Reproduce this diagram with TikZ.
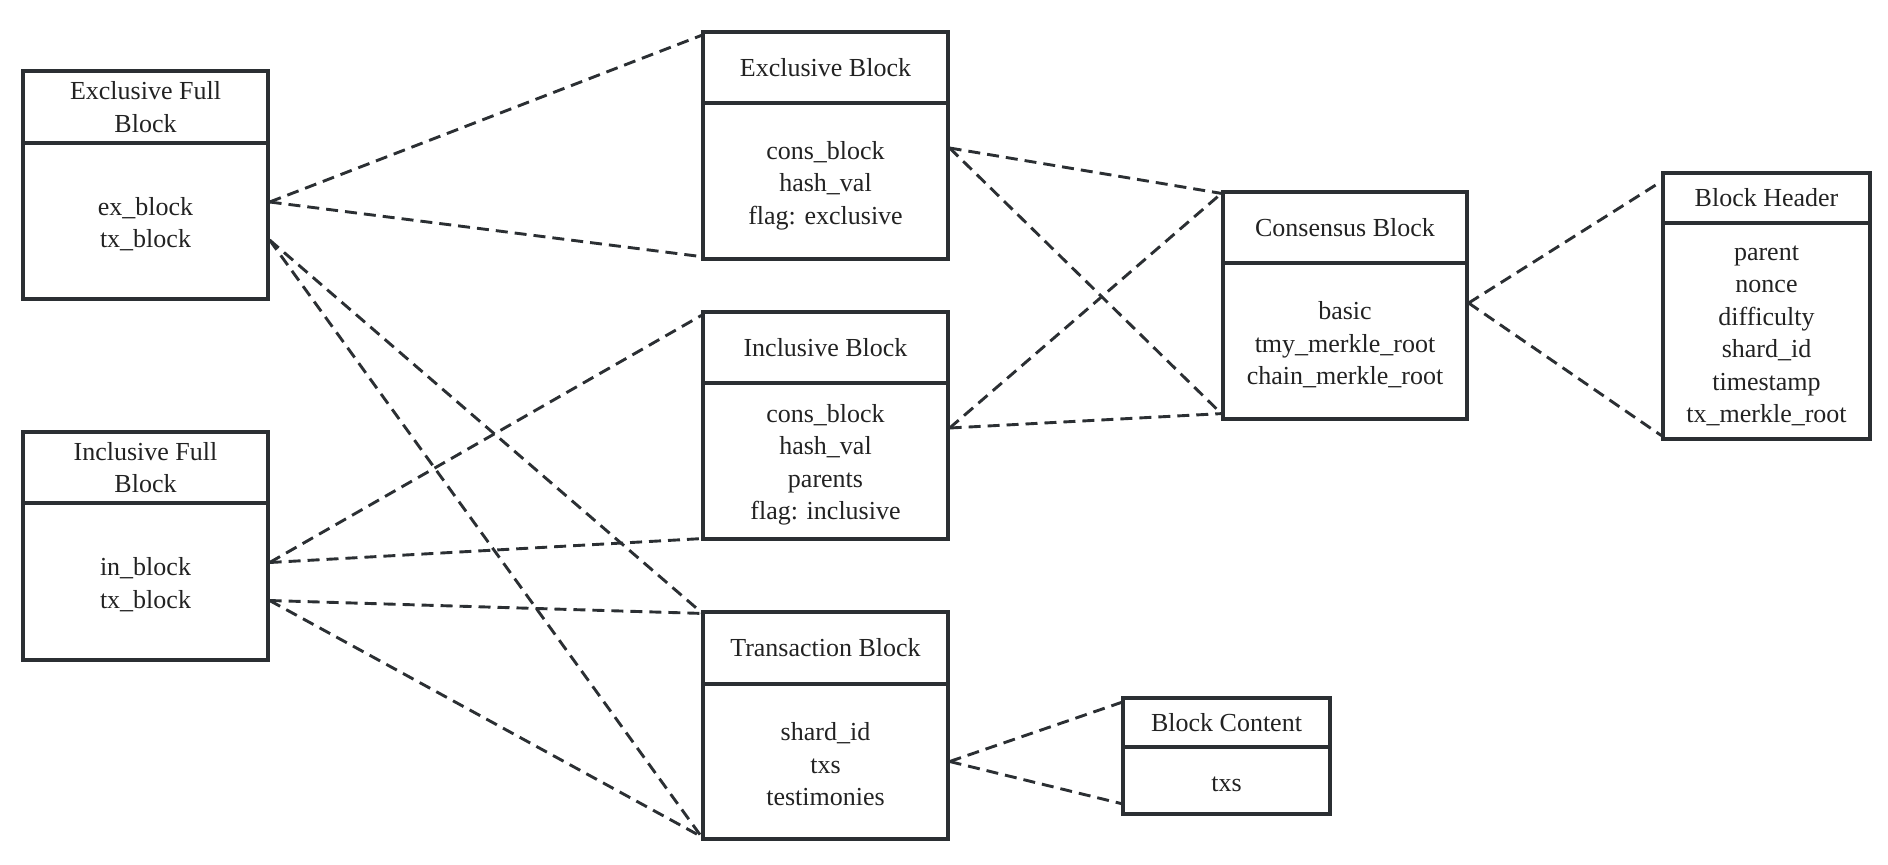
\documentclass[tikz,border=0pt]{standalone}
\usepackage{fontspec}
\setmainfont{Liberation Serif}
\definecolor{line}{HTML}{2B2F33}
\definecolor{txt}{HTML}{222222}
\tikzset{
  box/.style={draw=line, line width=1.6pt, inner sep=0pt, align=center, text=txt,
    font=\fontsize{13}{16.25}\selectfont},
  btext/.style={inner sep=0pt, align=center, text=txt, font=\fontsize{13}{16.25}\selectfont},
  rel/.style={draw=line, line width=1.45pt, dash pattern=on 6pt off 3.5pt}
}
\begin{document}
\begin{tikzpicture}[x=0.5pt,y=-0.5pt]
\useasboundingbox (0,0) rectangle (1888,864);
% Exclusive Full Block
\node[box, minimum width=122.5pt, minimum height=36pt] (efbh) at (145.5,107) {Exclusive Full\\Block};
\node[box, minimum width=122.5pt, minimum height=78pt] (efb) at (145.5,221) {};
\node[btext] (efbt) at ([yshift=-1.5pt]efb.center) {ex\_block\\tx\_block};
% Inclusive Full Block
\node[box, minimum width=122.5pt, minimum height=35.5pt] (ifbh) at (145.5,467.5) {Inclusive Full\\Block};
\node[box, minimum width=122.5pt, minimum height=78.5pt] (ifb) at (145.5,581.5) {};
\node[btext] (ifbt) at ([yshift=-1.5pt]ifb.center) {in\_block\\tx\_block};
% Exclusive Block
\node[box, minimum width=122.5pt, minimum height=35.5pt] (ebh) at (825.5,67.5) {Exclusive Block};
\node[box, minimum width=122.5pt, minimum height=78pt] (eb) at (825.5,181) {};
\node[btext] (ebt) at ([yshift=-2.2pt]eb.center) {cons\_block\\hash\_val\\flag: exclusive};
% Inclusive Block
\node[box, minimum width=122.5pt, minimum height=35.5pt] (ibh) at (825.5,347.5) {Inclusive Block};
\node[box, minimum width=122.5pt, minimum height=78pt] (ib) at (825.5,461) {};
\node[btext] (ibt) at ([yshift=-2pt]ib.center) {cons\_block\\hash\_val\\parents\\flag: inclusive};
% Transaction Block
\node[box, minimum width=122.5pt, minimum height=36pt] (tbh) at (825.5,648) {Transaction Block};
\node[box, minimum width=122.5pt, minimum height=77.5pt] (tb) at (825.5,761.5) {};
\node[btext] (tbt) at ([yshift=-1.5pt]tb.center) {shard\_id\\txs\\testimonies};
% Consensus Block
\node[box, minimum width=122pt, minimum height=35.5pt] (cbh) at (1345,227.5) {Consensus Block};
\node[box, minimum width=122pt, minimum height=78pt] (cb) at (1345,341) {};
\node[btext] (cbt) at ([yshift=-2pt]cb.center) {basic\\tmy\_merkle\_root\\chain\_merkle\_root};
% Block Header
\node[box, minimum width=103.5pt, minimum height=25pt] (bhh) at (1766.5,198) {Block Header};
\node[box, minimum width=103.5pt, minimum height=108pt] (bh) at (1766.5,331) {};
\node[btext] (bht) at ([yshift=-2.5pt]bh.center) {parent\\nonce\\difficulty\\shard\_id\\timestamp\\tx\_merkle\_root};
% Block Content
\node[box, minimum width=103.5pt, minimum height=24.5pt] (bch) at (1226.5,722.5) {Block Content};
\node[box, minimum width=103.5pt, minimum height=33.5pt] (bc) at (1226.5,780.5) {};
\node[btext] (bct) at ([yshift=-1.8pt]bc.center) {txs};
% relations
\draw[rel] ([yshift=9.5pt]efb.east) -- ([yshift=-2.5pt]ebh.north west);
\draw[rel] ([yshift=9.5pt]efb.east) -- ([yshift=2pt]eb.south west);
\draw[rel] ([yshift=-9.5pt]efb.east) -- ([yshift=-1pt]tbh.north west);
\draw[rel] ([yshift=-9.5pt]efb.east) -- ([yshift=2pt]tb.south west);
\draw[rel] ([yshift=9.5pt]ifb.east) -- ([yshift=-2.5pt]ibh.north west);
\draw[rel] ([yshift=9.5pt]ifb.east) -- ([yshift=1pt]ib.south west);
\draw[rel] ([yshift=-9.5pt]ifb.east) -- ([yshift=-1.5pt]tbh.north west);
\draw[rel] ([yshift=-9.5pt]ifb.east) -- ([yshift=2pt]tb.south west);
\draw[rel] ([yshift=16.5pt]eb.east) -- ([yshift=-1.5pt]cbh.north west);
\draw[rel] ([yshift=16.5pt]eb.east) -- ([yshift=3.5pt]cb.south west);
\draw[rel] ([yshift=16.5pt]ib.east) -- ([yshift=-1.5pt]cbh.north west);
\draw[rel] ([yshift=16.5pt]ib.east) -- ([yshift=3.5pt]cb.south west);
\draw[rel] ([yshift=19pt]cb.east) -- ([yshift=-5pt]bhh.north west);
\draw[rel] ([yshift=19pt]cb.east) -- ([yshift=2.5pt]bh.south west);
\draw[rel] (tb.east) -- ([yshift=-3pt]bch.north west);
\draw[rel] (tb.east) -- ([yshift=6pt]bc.south west);
\end{tikzpicture}
\end{document}
